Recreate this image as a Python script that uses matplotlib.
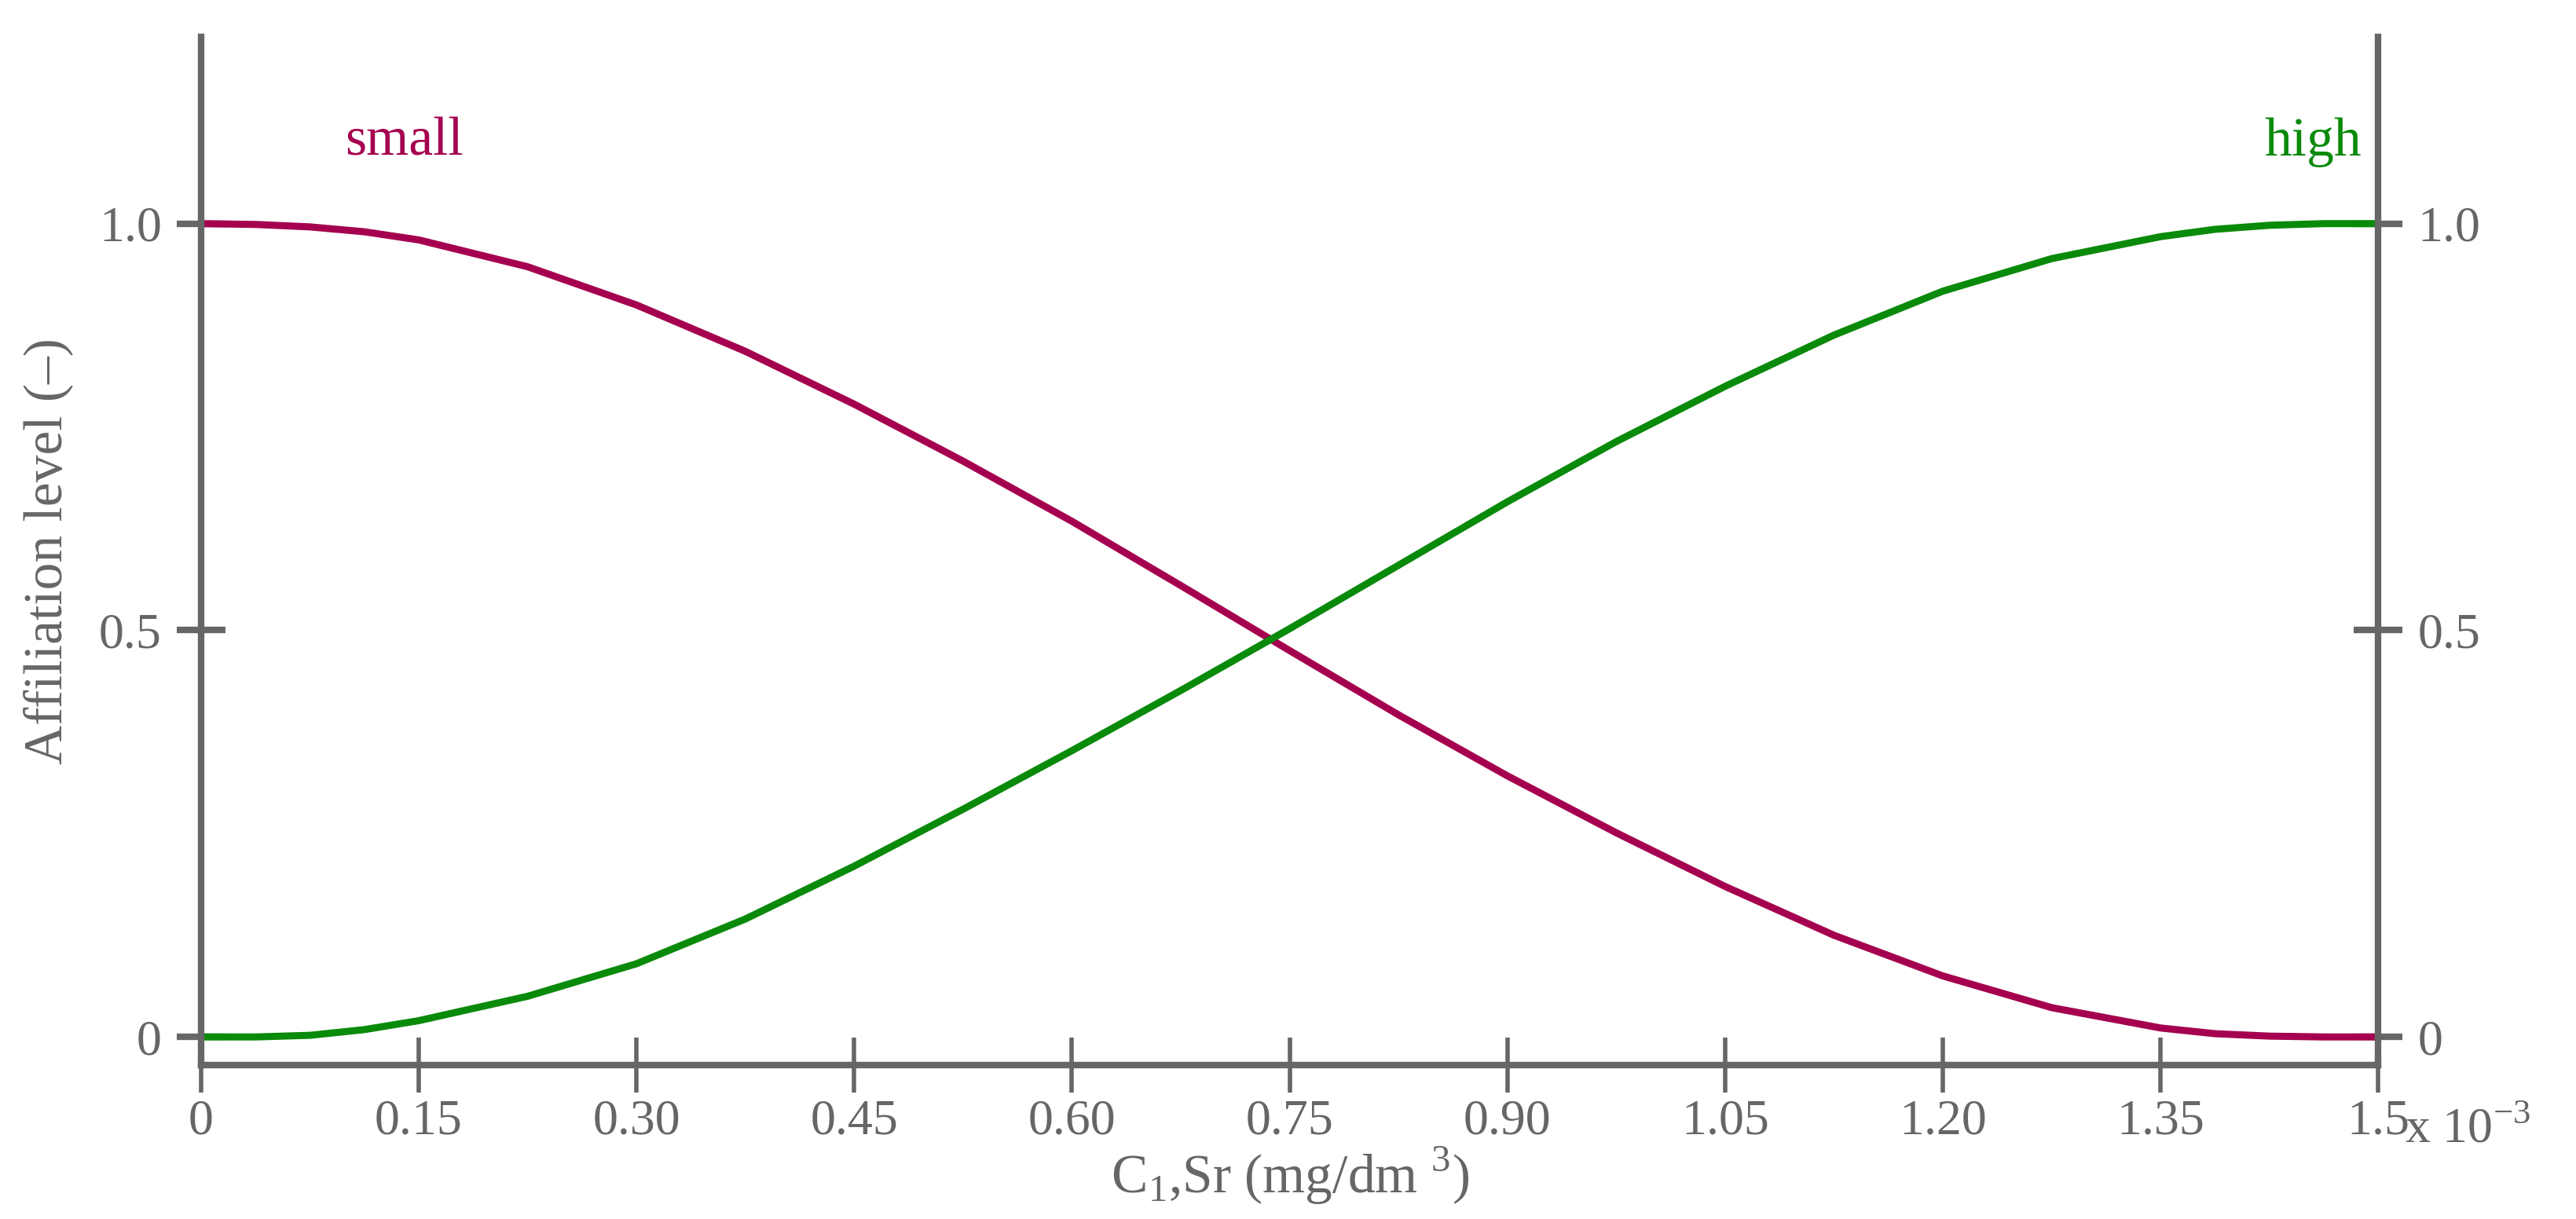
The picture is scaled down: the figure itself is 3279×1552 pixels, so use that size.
import matplotlib
matplotlib.use("Agg")
import matplotlib.pyplot as plt

x_vals = [0, 0.0375, 0.075, 0.1125, 0.15, 0.225, 0.30, 0.375, 0.45, 0.525, 0.60, 0.675, 0.75, 0.825, 0.90, 0.975, 1.05, 1.125, 1.20, 1.275, 1.35, 1.3875, 1.425, 1.4625, 1.5]
small = [1.0, 0.999, 0.996, 0.99, 0.98, 0.947, 0.90, 0.843, 0.778, 0.708, 0.634, 0.555, 0.475, 0.396, 0.321, 0.251, 0.185, 0.125, 0.075, 0.036, 0.011, 0.004, 0.001, 0.0, 0.0]
high = [0.0, 0.0, 0.002, 0.009, 0.02, 0.05, 0.09, 0.145, 0.21, 0.28, 0.352, 0.426, 0.502, 0.58, 0.658, 0.732, 0.80, 0.863, 0.917, 0.957, 0.984, 0.993, 0.998, 1.0, 1.0]
xticks = [0, 0.15, 0.30, 0.45, 0.60, 0.75, 0.90, 1.05, 1.20, 1.35, 1.5]
xticklabels = ["0", "0.15", "0.30", "0.45", "0.60", "0.75", "0.90", "1.05", "1.20", "1.35", "1.5"]
yticks = [0, 0.5, 1.0]
yticklabels = ["0", "0.5", "1.0"]

gray = "#666666"
c_small = "#A5004F"
c_high = "#0A8A0A"
plt.rcParams['font.family'] = ['Liberation Serif', 'DejaVu Serif']
plt.rcParams['mathtext.fontset'] = 'custom'
plt.rcParams['mathtext.rm'] = 'Liberation Serif'

fig = plt.figure(figsize=(32.8, 15.52), dpi=100)
ax = fig.add_axes([0.078, 0.126, 0.845, 0.844])
ax.plot(x_vals, small, color=c_small, lw=6.5)
ax.plot(x_vals, high, color=c_high, lw=6.5)
ax.set_xlim(0, 1.5)
ax.set_ylim(-0.035, 1.23)
ax.spines['top'].set_visible(False)
for s in ['left', 'right', 'bottom']:
    ax.spines[s].set_color(gray)
    ax.spines[s].set_linewidth(6)
ax.set_xticks(xticks)
ax.set_xticklabels(xticklabels)
ax.set_yticks(yticks)
ax.set_yticklabels(yticklabels)
ax.tick_params(axis='x', direction='inout', length=50, width=4, colors=gray, labelsize=46, pad=6)
ax.tick_params(axis='y', direction='inout', length=44, width=6, colors=gray, labelsize=46,
               right=True, labelright=True, pad=14)
ax.set_ylabel("Affiliation level (–)", color=gray, fontsize=50, labelpad=24)
ax.set_xlabel(r"C$_1$,Sr (mg/dm $^3$)", color=gray, fontsize=50, labelpad=0)
ax.text(1.012, -0.115, r"x 10$^{-3}$", transform=ax.get_yaxis_transform(), color=gray, fontsize=46,
        ha='left', va='center')
ax.text(0.14, 1.10, "small", color=c_small, fontsize=50, ha='center', va='center')
ax.text(1.455, 1.10, "high", color=c_high, fontsize=50, ha='center', va='center')
fig.savefig("out.png", dpi=100)
